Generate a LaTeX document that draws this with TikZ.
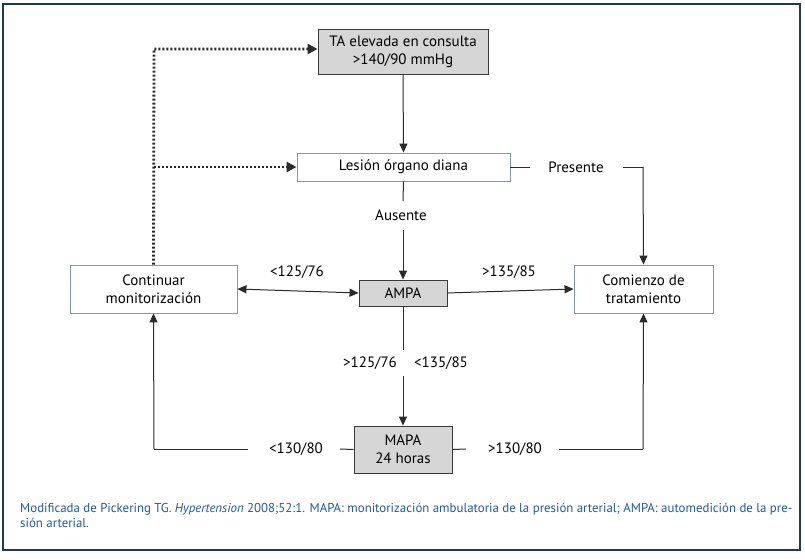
\documentclass[tikz,border=0pt]{standalone}
\usepackage{fontspec}
\setmainfont{PT Sans}
\usetikzlibrary{arrows.meta,calc}
\definecolor{frame}{HTML}{1F3A4D}
\definecolor{bbord}{HTML}{7F9AB5}
\definecolor{gfill}{HTML}{D6D6D6}
\definecolor{gbord}{HTML}{3A3A3A}
\definecolor{ln}{HTML}{2B2B2B}
\definecolor{cap}{HTML}{1F5C99}
\tikzset{
  wbox/.style={draw=bbord,fill=white,line width=0.9pt,inner sep=0pt,align=center,font=\fontsize{15}{18}\selectfont},
  gbox/.style={draw=gbord,fill=gfill,line width=0.9pt,inner sep=0pt,align=center,font=\fontsize{15}{18}\selectfont},
  lbl/.style={inner sep=0pt,font=\fontsize{15}{18}\selectfont},
  conn/.style={draw=ln,line width=1pt},
  arr/.style={conn,-{Triangle[length=9pt,width=8pt]}},
  darr/.style={conn,{Triangle[length=9pt,width=8pt]}-{Triangle[length=9pt,width=8pt]}},
  dotl/.style={draw=ln,line width=2.8pt,dash pattern=on 2pt off 2pt,-{Triangle[length=10pt,width=10pt]}}
}
\begin{document}
\begin{tikzpicture}[x=1pt,y=-1pt]
\useasboundingbox (0,0) rectangle (805,559);
\fill[white] (0,0) rectangle (805,559);
\draw[frame,line width=1.3pt] (3,4) rectangle (800,550);
% boxes
\node[gbox,minimum width=170pt,minimum height=45pt] (ta) at (403,51.5) {TA elevada en consulta\\>140/90 mmHg};
\node[wbox,minimum width=213pt,minimum height=28pt] (les) at (403.5,167) {Lesión órgano diana};
\node[wbox,minimum width=167pt,minimum height=48pt] (cont) at (153.5,289) {Continuar\\monitorización};
\node[gbox,minimum width=88pt,minimum height=26pt] (ampa) at (403,293) {AMPA};
\node[wbox,minimum width=139pt,minimum height=48pt] (com) at (643.5,289) {Comienzo de\\tratamiento};
\node[gbox,minimum width=98pt,minimum height=47pt] (mapa) at (403,449.5) {MAPA\\24 horas};
% labels
\node[lbl] (aus) at (401,215) {Ausente};
\node[lbl] (pres) at (576,167) {Presente};
\node[lbl] (l1) at (297,272) {<125/76};
\node[lbl] (l2) at (509,272) {>135/85};
\node[lbl] (l3) at (370,363) {>125/76};
\node[lbl] (l4) at (441,363) {<135/85};
\node[lbl] (l5) at (296,449) {<130/80};
\node[lbl] (l6) at (515,449) {>130/80};
\coordinate (top) at (154,49);
\coordinate (mid) at (154,167);
\coordinate (pr) at (643,167);
\coordinate (ml) at (154,449);
\coordinate (mr) at (643,449);
% connectors
\draw[arr] (ta.south) -- (les.north);
\draw[conn] (les.south) -- (403,201);
\draw[arr] (403,230) -- (ampa.north);
\draw[conn] (les.east) -- (530,167);
\draw[conn] (623,167) -- (pr);
\draw[arr] (pr) -- (com.north);
\draw[darr] (cont.east) -- (ampa.west);
\draw[arr] (ampa.east) -- (com.west);
\draw[conn] (ampa.south) -- (403,350);
\draw[arr] (403,376) -- (mapa.north);
\draw[conn] (mapa.west) -- (340,449);
\draw[conn] (248,449) -- (ml);
\draw[arr] (ml) -- (cont.south);
\draw[conn] (mapa.east) -- (466,449);
\draw[conn] (559,449) -- (mr);
\draw[arr] (mr) -- (com.south);
% dotted feedback
\draw[dotl] (cont.north) -- (top) -- (ta.west |- top);
\draw[dotl] (mid) -- (les.west);
% caption
\node[anchor=north west,inner sep=0pt,text=cap,align=left,font=\fontsize{12.85}{14.5}\selectfont] (capt) at (20,503.5) {Modificada de Pickering TG. \textit{Hypertension} 2008;52:1. MAPA: monitorización ambulatoria de la presión arterial; AMPA: automedición de la pre-\\sión arterial.};
\end{tikzpicture}
\end{document}
